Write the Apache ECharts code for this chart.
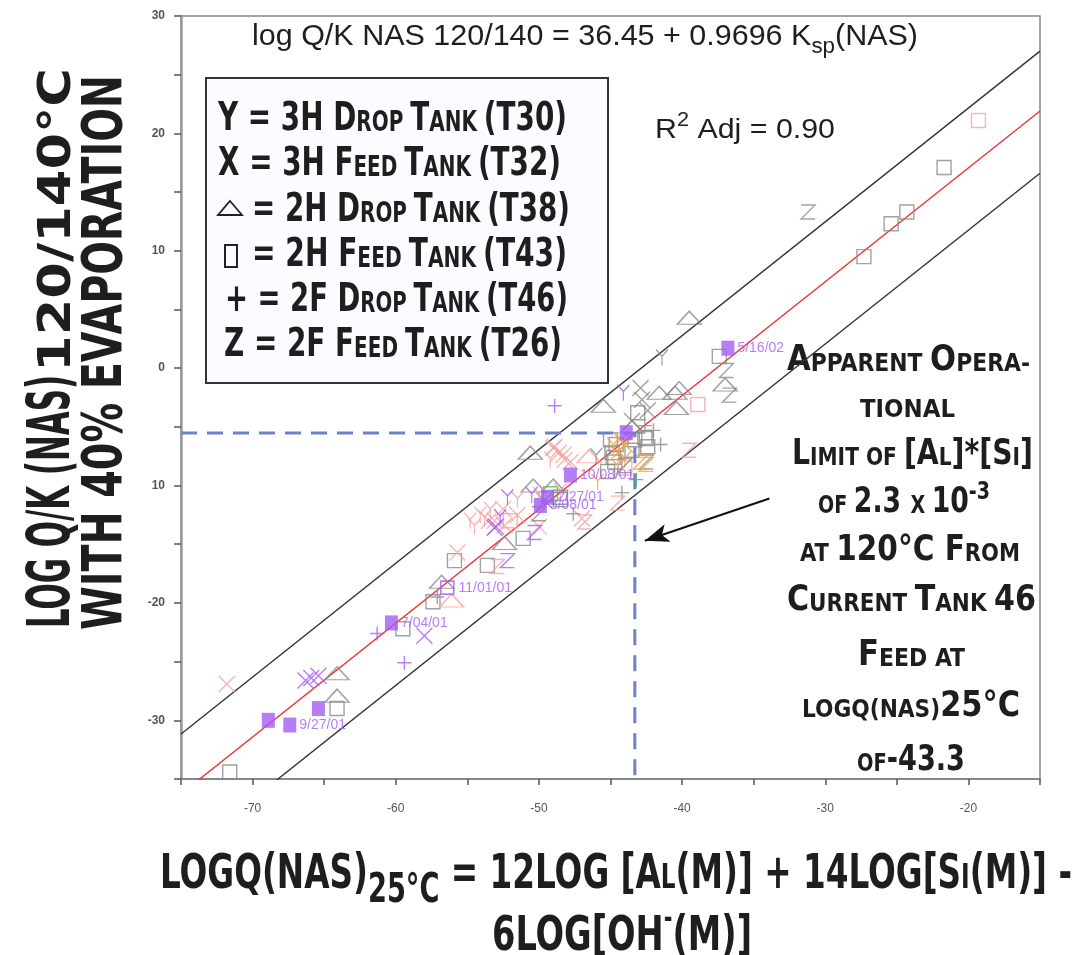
<!DOCTYPE html>
<html>
<head>
<meta charset="utf-8">
<script src="https://cdn.jsdelivr.net/npm/echarts@6/dist/echarts.min.js"></script>
<style>
html, body { margin: 0; padding: 0; background: #fff; }
#chart { width: 1084px; height: 955px; }
</style>
</head>
<body>
<div id="chart"></div>
<script>
// ---- data ----
var fitIntercept = 36.45;
var fitSlope = 0.9696;
var bandUpper = 5.1;
var bandLower = -5.3;
var feedLogQ = -43.3;
var xRange = [-75, -15];
var yRange = [-35, 30];
var yTickLabels = { "30": "30", "20": "20", "10": "10", "0": "0", "-10": "10", "-20": "-20", "-30": "-30" };
var xTickLabels = { "-70": "-70", "-60": "-60", "-50": "-50", "-40": "-40", "-30": "-30", "-20": "-20" };

// 2H feed tank (T43) squares
var t43Gray = [[-21.7, 17.1], [-24.3, 13.3], [-25.4, 12.3], [-27.3, 9.5], [-37.4, 1.0], [-71.6, -34.4],
  [-64.1, -29.0], [-59.5, -22.2], [-57.4, -19.9], [-55.9, -16.4], [-53.6, -16.8], [-51.1, -14.5],
  [-43.1, -3.8], [-44.6, -6.5], [-44.8, -7.6], [-43.5, -7.0], [-42.5, -6.0], [-48.5, -11.2], [-45.2, -8.8],
  [-45.0, -6.1], [-44.9, -7.2], [-44.7, -8.0], [-43.3, -6.1], [-42.6, -5.9], [-42.4, -6.7], [-48.5, -11.0]];
var t43Pink = [[-19.3, 21.1], [-38.9, -3.1], [-44.0, -8.5], [-52.0, -13.0]];
var t43Green = [[-49.2, -10.7]];
// 2H drop tank (T38) triangles
var t38Gray = [[-39.5, 4.3], [-37.0, -1.4], [-40.2, -1.7], [-40.5, -2.1], [-41.6, -2.1], [-45.5, -3.2],
  [-40.4, -3.4], [-64.1, -26.0], [-64.1, -27.9], [-56.8, -18.2], [-52.4, -14.9], [-50.4, -10.0],
  [-49.0, -10.0], [-50.6, -7.2], [-43.5, -5.0]];
var t38Pink = [[-56.1, -19.8], [-46.5, -7.5]];
// 3H feed tank (T32) X
var t32Gray = [[-42.9, -1.7], [-42.8, -2.7], [-43.5, -4.5], [-42.4, -3.6], [-49.6, -11.3]];
var t32Pink = [[-71.8, -26.9], [-55.7, -15.7], [-48.6, -7.2], [-48.2, -7.8], [-49.0, -6.8], [-51.5, -12.5],
  [-52.5, -12.0], [-53.5, -13.0], [-50.0, -13.5], [-47.0, -12.8], [-48.9, -6.7], [-48.3, -7.4], [-47.8, -8.0],
  [-53.1, -13.0], [-52.4, -13.4]];
var t32Purple = [[-66.3, -26.6], [-65.9, -26.4], [-65.4, -26.2], [-58.0, -22.8], [-53.0, -13.5], [-53.1, -13.6]];
var t32Orange = [[-44.0, -6.5], [-44.5, -7.2], [-44.3, -6.1]];
// 3H drop tank (T30) Y
var t30Gray = [[-41.4, 0.9], [-46.0, -7.5]];
var t30Pink = [[-53.8, -12.8], [-54.5, -13.5], [-50.0, -10.8], [-51.5, -11.2], [-48.5, -10.5], [-49.2, -7.8],
  [-54.8, -13.0], [-54.1, -12.5], [-53.4, -12.1]];
var t30Purple = [[-44.1, -2.1], [-52.2, -11.0], [-52.7, -12.7], [-50.5, -10.8]];
var t30Orange = [[-44.5, -8.4], [-45.9, -9.7], [-44.0, -7.8], [-44.8, -6.6]];
// 2F drop tank (T46) +
var t46Gray = [[-57.1, -19.5], [-44.2, -10.6], [-47.6, -12.4], [-41.5, -6.5], [-42.0, -5.3], [-42.6, -4.9]];
var t46Purple = [[-48.9, -3.2], [-59.4, -25.1], [-61.3, -22.6]];
var t46Green = [[-43.2, -9.5]];
// 2F feed tank (T26) Z
var t26Gray = [[-31.2, 13.3], [-36.9, -0.2], [-36.7, -2.3], [-42.5, -8.0], [-50.0, -12.4], [-44.0, -8.3]];
var t26Pink = [[-39.5, -7.0], [-46.8, -13.1], [-52.9, -16.9], [-44.5, -11.5]];
var t26Purple = [[-50.3, -14.0], [-52.2, -16.4]];
var t26Orange = [[-42.5, -8.2], [-42.9, -8.0]];
// dated tank 46 feed samples
var datedPoints = [[-36.8, 1.7], [-43.9, -5.5], [-47.8, -9.1], [-49.9, -11.7], [-49.4, -11.0], [-60.3, -21.7],
  [-65.4, -29.0], [-68.9, -30.0], [-67.4, -30.4]];
var datedLabels = ["5/16/02", "", "10/08/01", "3/08/01", "2/27/01", "7/04/01", "", "", "9/27/01"];
var openDated = [[-56.4, -18.7]];
var openDatedLabels = ["11/01/01"];
var arrowFrom = [-33.9, -11.1];
var arrowTo = [-42.6, -14.7];

// ---- styles ----
var GRAY = "#8a8a8a", PINK = "#f5a3a3", PURPLE = "#a45ef2", ORANGE = "#f2a33a", GREEN = "#3cc43c";
var SYM = {
  sq: "path://M0,0L10,0L10,10L0,10Z",
  tri: "path://M5,0L10,5.5L0,5.5Z",
  x: "path://M0,0L10,10M10,0L0,10",
  y: "path://M0,0L5,5L10,0M5,5L5,12",
  z: "path://M0,0L10,0L0,10L10,10",
  plus: "path://M5,0L5,10M0,5L10,5"
};
var SIZE = { sq: [14, 14], tri: [24, 13], x: [16, 16], y: [12, 16], z: [14, 14], plus: [14, 14] };

function marks(data, sym, color) {
  return {
    type: "scatter", data: data, symbol: SYM[sym], symbolSize: SIZE[sym],
    itemStyle: { color: "rgba(0,0,0,0)", borderColor: color, borderWidth: 1.4 },
    silent: true, z: 3
  };
}

function fit(x, off) { return fitIntercept + fitSlope * x + off; }
function bandLine(off, color) {
  return {
    type: "line", data: [[xRange[0], fit(xRange[0], off)], [xRange[1], fit(xRange[1], off)]],
    symbol: "none", lineStyle: { color: color, width: 1.4 }, silent: true, z: 2
  };
}

// ---- text helper: fit runs of mixed-size text between x0 and x1 ----
var ctx = document.createElement("canvas").getContext("2d");
var NARROW = '"Liberation Sans Narrow", "DejaVu Sans Condensed", sans-serif';
var REGULAR = '"Liberation Sans", Arial, sans-serif';
function textRun(parts, x0, x1, base, family, weight) {
  var total = 0;
  parts.forEach(function (p) {
    ctx.font = weight + " " + p[1] + "px " + family;
    p.w = ctx.measureText(p[0]).width;
    total += p.w;
  });
  var k = (x1 - x0) / total;
  var x = x0, els = [];
  parts.forEach(function (p) {
    els.push({
      type: "text", x: x, y: base + (p[2] || 0) - 0.31 * p[1], scaleX: k, silent: true,
      style: { text: p[0], font: weight + " " + p[1] + "px " + family, fill: "#1e1e1e", verticalAlign: "middle" }
    });
    x += p.w * k;
  });
  return els;
}

var B = 39, S = 28;
var legendLines = [
  [[["Y = 3H D", B], ["ROP ", S], ["T", B], ["ANK ", S], ["(T30)", B]], 218, 567, 132],
  [[["X = 3H F", B], ["EED ", S], ["T", B], ["ANK ", S], ["(T32)", B]], 218, 561, 177],
  [[["= 2H D", B], ["ROP ", S], ["T", B], ["ANK ", S], ["(T38)", B]], 252, 570, 223],
  [[["= 2H F", B], ["EED ", S], ["T", B], ["ANK ", S], ["(T43)", B]], 252, 567, 268],
  [[["+ = 2F D", B], ["ROP ", S], ["T", B], ["ANK ", S], ["(T46)", B]], 225, 568, 313],
  [[["Z = 2F F", B], ["EED ", S], ["T", B], ["ANK ", S], ["(T26)", B]], 224, 562, 358]
];
var AB = 35, AS = 25;
var noteLines = [
  [[["A", AB], ["PPARENT ", AS], ["O", AB], ["PERA-", AS]], 787, 1030, 372],
  [[["TIONAL", AS]], 860, 955, 418],
  [[["L", AB], ["IMIT OF ", AS], ["[A", AB], ["L", AS], ["]*[S", AB], ["I", AS], ["]", AB]], 792, 1033, 466],
  [[["OF ", AS], ["2.3 ", AB], ["X ", AS], ["10", AB], ["-3", AS, -14]], 818, 990, 514],
  [[["AT ", AS], ["120°C ", AB], ["F", AB], ["ROM", AS]], 800, 1020, 562],
  [[["C", AB], ["URRENT ", AS], ["T", AB], ["ANK ", AS], ["46", AB]], 787, 1036, 612],
  [[["F", AB], ["EED AT", AS]], 858, 965, 667],
  [[["LOGQ(NAS)", AS], ["25°C", AB]], 802, 1020, 718],
  [[["OF", AS], ["-43.3", AB]], 857, 965, 772]
];

var graphics = [
  { type: "rect", shape: { x: 206, y: 78, width: 402, height: 305 }, style: { fill: "#fafcff", stroke: "#333", lineWidth: 2 }, z: 10 },
  { type: "polygon", shape: { points: [[230, 201], [242, 215], [218, 215]] }, style: { fill: "none", stroke: "#222", lineWidth: 1.8 }, z: 11 },
  { type: "rect", shape: { x: 225, y: 245, width: 12, height: 22 }, style: { fill: "none", stroke: "#222", lineWidth: 2 }, z: 11 }
];
legendLines.forEach(function (l) { graphics = graphics.concat(textRun(l[0], l[1], l[2], l[3], NARROW, "bold").map(function (e) { e.z = 11; return e; })); });
noteLines.forEach(function (l) { graphics = graphics.concat(textRun(l[0], l[1], l[2], l[3], NARROW, "bold")); });
graphics = graphics.concat(textRun([["log Q/K NAS 120/140 = 36.45 + 0.9696 K", 30], ["sp", 22, 8], ["(NAS)", 30]], 252, 918, 46, REGULAR, "normal"));
graphics = graphics.concat(textRun([["R", 28], ["2", 20, -12], [" Adj = 0.90", 28]], 655, 835, 139, REGULAR, "normal"));
graphics = graphics.concat(textRun([["LOGQ(NAS)", 48], ["25°C", 40, 14], [" = 12LOG [A", 48], ["L", 34], ["(M)] + 14LOG[S", 48], ["I", 34], ["(M)] -", 48]], 160, 1072, 890, NARROW, "bold"));
graphics = graphics.concat(textRun([["6LOG[OH", 48], ["-", 30, -22], ["(M)]", 48]], 492, 752, 952, NARROW, "bold"));
graphics.push({ type: "group", x: 72, y: 628, rotation: Math.PI / 2,
  children: textRun([["LOG Q/K (NAS)", 58]], 0, 253, 0, NARROW, "bold").concat(textRun([["120/140°C", 44]], 256, 560, 0, NARROW, "bold")) });
graphics.push({ type: "group", x: 124, y: 630, rotation: Math.PI / 2,
  children: textRun([["WITH 40% EVAPORATION", 56]], 0, 555, 0, NARROW, "bold") });

var series = [
  bandLine(bandUpper, "#333"), bandLine(bandLower, "#333"), bandLine(0, "#f03030"),
  {
    type: "line", data: [[xRange[0], fit(feedLogQ, 0)], [feedLogQ, fit(feedLogQ, 0)], [feedLogQ, yRange[0]]],
    symbol: "none", lineStyle: { color: "#6f82c8", width: 3, type: [16, 10] }, silent: true, z: 4
  },
  marks(t43Gray, "sq", GRAY), marks(t43Pink, "sq", PINK), marks(t43Green, "sq", GREEN),
  marks(t38Gray, "tri", GRAY), marks(t38Pink, "tri", PINK),
  marks(t32Gray, "x", GRAY), marks(t32Pink, "x", PINK), marks(t32Purple, "x", PURPLE), marks(t32Orange, "x", ORANGE),
  marks(t30Gray, "y", GRAY), marks(t30Pink, "y", PINK), marks(t30Purple, "y", PURPLE), marks(t30Orange, "y", ORANGE),
  marks(t46Gray, "plus", GRAY), marks(t46Purple, "plus", PURPLE), marks(t46Green, "plus", GREEN),
  marks(t26Gray, "z", GRAY), marks(t26Pink, "z", PINK), marks(t26Purple, "z", PURPLE), marks(t26Orange, "z", ORANGE),
  {
    type: "scatter", data: openDated, symbol: SYM.sq, symbolSize: [13, 13], silent: true, z: 5,
    itemStyle: { color: "rgba(0,0,0,0)", borderColor: PURPLE, borderWidth: 1.6 },
    label: { show: true, position: "right", distance: 4, color: PURPLE, fontSize: 14, fontFamily: REGULAR,
      formatter: function (p) { return openDatedLabels[p.dataIndex]; } }
  },
  {
    type: "scatter", data: datedPoints, symbol: "rect", symbolSize: [13, 15], silent: true, z: 6,
    itemStyle: { color: PURPLE },
    label: { show: true, position: "right", distance: 3, color: PURPLE, fontSize: 14, fontFamily: REGULAR,
      formatter: function (p) { return datedLabels[p.dataIndex]; } },
    markLine: {
      silent: true, animation: false, symbol: ["none", "arrow"], symbolSize: [14, 24],
      lineStyle: { color: "#111", width: 2, type: "solid" }, label: { show: false },
      data: [[{ coord: arrowFrom }, { coord: arrowTo }]]
    }
  }
];

var chart = echarts.init(document.getElementById("chart"));
chart.setOption({
  animation: false,
  backgroundColor: "#fff",
  grid: { left: 181, right: 44, top: 16, bottom: 176, show: true, borderColor: "#888", borderWidth: 1.5 },
  xAxis: {
    type: "value", min: xRange[0], max: xRange[1], interval: 5,
    axisLine: { onZero: false, lineStyle: { color: "#888", width: 2 } },
    axisTick: { length: 6, lineStyle: { color: "#555", width: 1.5 } },
    axisLabel: { margin: 24, color: "#555", fontSize: 12, fontFamily: REGULAR,
      formatter: function (v) { return xTickLabels[v] || ""; } },
    splitLine: { show: false }
  },
  yAxis: {
    type: "value", min: yRange[0], max: yRange[1], interval: 5,
    axisLine: { show: true, onZero: false, lineStyle: { color: "#999", width: 2.5 } },
    axisTick: { show: true, length: 7, lineStyle: { color: "#555", width: 1.5 } },
    axisLabel: { margin: 16, color: "#555", fontSize: 12, fontWeight: "bold", fontFamily: REGULAR,
      formatter: function (v) { return yTickLabels[v] || ""; } },
    splitLine: { show: false }
  },
  graphic: graphics,
  series: series
});
</script>
</body>
</html>
